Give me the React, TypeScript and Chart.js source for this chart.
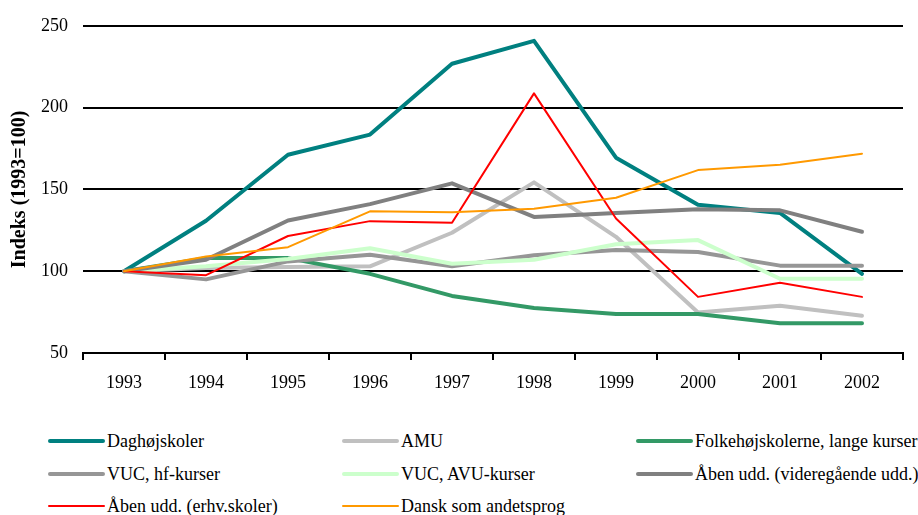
import React, { useEffect, useRef } from "react";
import { Chart, registerables } from "chart.js";

Chart.register(...registerables);

const years = ["1993", "1994", "1995", "1996", "1997", "1998", "1999", "2000", "2001", "2002"];
const yTicks = [50, 100, 150, 200, 250];

const seriesNames = [
  "Daghøjskoler",
  "AMU",
  "Folkehøjskolerne, lange kurser",
  "VUC, hf-kurser",
  "VUC, AVU-kurser",
  "Åben udd. (videregående udd.)",
  "Åben udd. (erhv.skoler)",
  "Dansk som andetsprog",
];

const daghojskoler = [100, 130.8, 171.2, 183.5, 226.8, 240.8, 169.4, 140.6, 135.6, 98.4];
const amu = [100, 102, 102.5, 103, 123.5, 154.3, 121, 74.8, 78.9, 72.8];
const folkehojskoler = [100, 108, 108, 98.4, 84.9, 77.5, 73.8, 73.8, 68.2, 68.2];
const vucHf = [100, 95, 106, 110, 103, 109.7, 113, 111.7, 103.4, 103.4];
const vucAvu = [100, 103, 107.5, 114, 104.6, 107, 116.5, 119, 95.4, 95.4];
const abenVideregaende = [100, 107, 131, 141, 153.7, 133.2, 135.6, 137.8, 137.2, 124.1];
const abenErhv = [100, 97.6, 121.5, 130.6, 129.6, 208.7, 132.2, 84.3, 93, 84.3];
const danskAndetsprog = [100, 109, 114.7, 136.6, 136, 138.2, 144.9, 161.8, 165, 171.8];

const seriesValues = [
  daghojskoler,
  amu,
  folkehojskoler,
  vucHf,
  vucAvu,
  abenVideregaende,
  abenErhv,
  danskAndetsprog,
];
const seriesColors = ["#008080", "#C0C0C0", "#339966", "#969696", "#CCFFCC", "#808080", "#FF0000", "#FF9900"];
const seriesWidths = [4, 4, 4, 4, 4, 4, 2, 2];

const FONT = "'Liberation Serif', 'Times New Roman', serif";

export default function App() {
  const canvasRef = useRef<HTMLCanvasElement | null>(null);

  useEffect(() => {
    const canvas = canvasRef.current;
    if (!canvas) return;
    const chart = new Chart(canvas, {
      type: "line",
      data: {
        labels: years,
        datasets: seriesNames.map((name, i) => ({
          label: name,
          data: seriesValues[i],
          borderColor: seriesColors[i],
          backgroundColor: seriesColors[i],
          borderWidth: seriesWidths[i],
          pointRadius: 0,
          tension: 0,
          fill: false,
          borderCapStyle: "round" as const,
          borderJoinStyle: "round" as const,
          order: seriesNames.length - i,
        })),
      },
      options: {
        responsive: false,
        animation: false,
        devicePixelRatio: 1,
        layout: { padding: { top: 21, right: 15, left: 0, bottom: 0 } },
        plugins: {
          legend: { display: false },
          tooltip: { enabled: false },
        },
        scales: {
          x: {
            type: "category",
            offset: true,
            grid: {
              offset: true,
              drawOnChartArea: false,
              drawTicks: true,
              tickLength: 7,
              color: "#000000",
              lineWidth: 2,
            },
            border: { display: true, color: "#000000", width: 2 },
            ticks: {
              color: "#000000",
              font: { family: FONT, size: 18 },
              padding: 12,
              maxRotation: 0,
            },
            afterFit: (scale: any) => {
              scale.height = 47;
            },
          },
          y: {
            min: 50,
            max: 250,
            afterBuildTicks: (scale: any) => {
              scale.ticks = yTicks.map((v) => ({ value: v }));
            },
            grid: {
              drawTicks: false,
              color: "#000000",
              lineWidth: 2,
            },
            border: { display: false },
            ticks: {
              color: "#000000",
              font: { family: FONT, size: 18 },
              padding: 15,
            },
            title: {
              display: true,
              text: "Indeks (1993=100)",
              color: "#000000",
              font: { family: FONT, size: 20, weight: "bold" },
              padding: { top: 8, bottom: 0 },
            },
            afterFit: (scale: any) => {
              scale.width = 83;
            },
          },
        },
      },
    });
    return () => chart.destroy();
  }, []);

  const colLeft = [48, 342, 636];
  const rowCenter = [441, 474, 506];

  return (
    <div style={{ position: "absolute", left: 0, top: 0, width: 918, height: 515, background: "#ffffff", overflow: "hidden" }}>
      <canvas ref={canvasRef} width={918} height={400} style={{ position: "absolute", left: 0, top: 0, width: 918, height: 400 }} />
      {seriesNames.map((name, i) => {
        const col = i % 3;
        const row = Math.floor(i / 3);
        return (
          <div
            key={name}
            style={{
              position: "absolute",
              left: colLeft[col],
              top: rowCenter[row] - 12,
              height: 24,
              display: "flex",
              alignItems: "center",
              whiteSpace: "nowrap",
              fontFamily: FONT,
              fontSize: 18,
              color: "#000000",
            }}
          >
            <span
              style={{
                display: "inline-block",
                width: 57,
                height: seriesWidths[i],
                borderRadius: seriesWidths[i] / 2,
                background: seriesColors[i],
                marginRight: 2,
              }}
            />
            <span>{name}</span>
          </div>
        );
      })}
    </div>
  );
}
